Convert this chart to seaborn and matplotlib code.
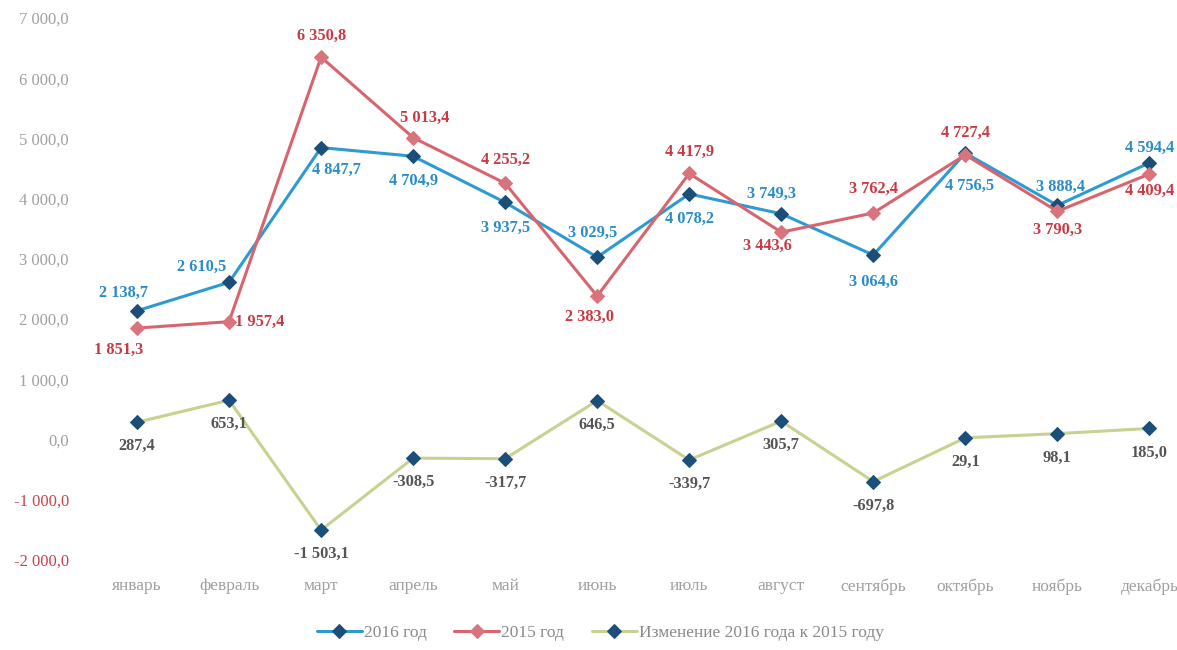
import pandas as pd
import matplotlib.pyplot as plt
import seaborn as sns

# Month names (x axis)
months = ['январь', 'февраль', 'март', 'апрель', 'май', 'июнь',
          'июль', 'август', 'сентябрь', 'октябрь', 'ноябрь', 'декабрь']

# Series values
values_2016 = [2138.7, 2610.5, 4847.7, 4704.9, 3937.5, 3029.5,
               4078.2, 3749.3, 3064.6, 4756.5, 3888.4, 4594.4]
values_2015 = [1851.3, 1957.4, 6350.8, 5013.4, 4255.2, 2383.0,
               4417.9, 3443.6, 3762.4, 4727.4, 3790.3, 4409.4]
values_change = [287.4, 653.1, -1503.1, -308.5, -317.7, 646.5,
                 -339.7, 305.7, -697.8, 29.1, 98.1, 185.0]

series_names = ['2016 год', '2015 год', 'Изменение 2016 года к 2015 году']
y_ticks = [-2000, -1000, 0, 1000, 2000, 3000, 4000, 5000, 6000, 7000]

# label offsets in pixels (dx, dy) relative to each point
off_2016 = [(-14, 18), (-27, 15), (15, -22), (0, -25), (0, -25), (-5, 24),
            (0, -25), (-10, 20), (0, -27), (4, -33), (3, 19), (0, 15)]
off_2015 = [(-18, -22), (30, 0), (0, 21), (12, 20), (0, 23), (-8, -21),
            (0, 22), (-14, -14), (0, 24), (0, 22), (0, -19), (0, -17)]
off_change = [(0, -24)] * 12


def ru_fmt(v):
    """Russian style number: space thousands separator, comma decimal."""
    s = f'{abs(v):,.1f}'.replace(',', ' ').replace('.', ',')
    return ('-' if v < 0 else '') + s


df = pd.DataFrame({
    'x': list(range(len(months))) * 3,
    'value': values_2016 + values_2015 + values_change,
    'series': [series_names[0]] * 12 + [series_names[1]] * 12 + [series_names[2]] * 12,
})

sns.set_style('white')
plt.rcParams['font.family'] = ['Liberation Serif', 'DejaVu Serif']

fig = plt.figure(figsize=(11.77, 6.5), dpi=100)
ax = fig.add_axes([91 / 1177, 90 / 650, (1177 - 91) / 1177, 542 / 650])

styles = {
    series_names[0]: dict(color='#2E9AD2', mfc='#1B4F7A', mec='#1B4F7A'),
    series_names[1]: dict(color='#D8656E', mfc='#D9747C', mec='#D9747C'),
    series_names[2]: dict(color='#C8D190', mfc='#1B4F7A', mec='#1B4F7A'),
}

for name in series_names:
    st = styles[name]
    sns.lineplot(data=df[df['series'] == name], x='x', y='value', ax=ax,
                 color=st['color'], marker='D', markersize=7,
                 markerfacecolor=st['mfc'], markeredgecolor=st['mec'],
                 linewidth=2.2, label=name, sort=False)

# data labels
label_sets = [
    (values_2016, off_2016, '#2A8CC8'),
    (values_2015, off_2015, '#C83A44'),
    (values_change, off_change, '#555555'),
]
for vals, offs, col in label_sets:
    for i, v in enumerate(vals):
        dx, dy = offs[i]
        ha = 'left' if dx >= 25 else 'center'
        ax.annotate(ru_fmt(v), (i, v), xytext=(dx if ha == 'center' else 6, dy),
                    textcoords='offset pixels', ha=ha, va='center',
                    fontsize=11.8, fontweight='bold', color=col)

ax.set_xlim(-0.5, 11.3)
ax.set_ylim(-2000, 7000)
ax.set_xticks(range(len(months)))
ax.set_xticklabels(months)
ax.set_yticks(y_ticks)
ax.set_yticklabels([ru_fmt(t) for t in y_ticks])
ax.set_xlabel('')
ax.set_ylabel('')
ax.tick_params(axis='x', length=0, pad=13, labelsize=12.5, labelcolor='#A0A0A0')
ax.tick_params(axis='y', length=0, pad=16, labelsize=12, labelcolor='#A0A0A0')
for t, val in zip(ax.get_yticklabels(), y_ticks):
    if val < 0:
        t.set_color('#D0404A')
sns.despine(ax=ax, left=True, bottom=True)

ax.get_legend().remove()
handles, labels = ax.get_legend_handles_labels()
leg = fig.legend(handles, labels, loc='lower center', bbox_to_anchor=(0.51, -0.01),
                 ncol=3, frameon=False, fontsize=12.5, handlelength=2.6,
                 columnspacing=1.6, handletextpad=0.1)
for t in leg.get_texts():
    t.set_color('#8A8A8A')

fig.savefig('out.png', dpi=100)
